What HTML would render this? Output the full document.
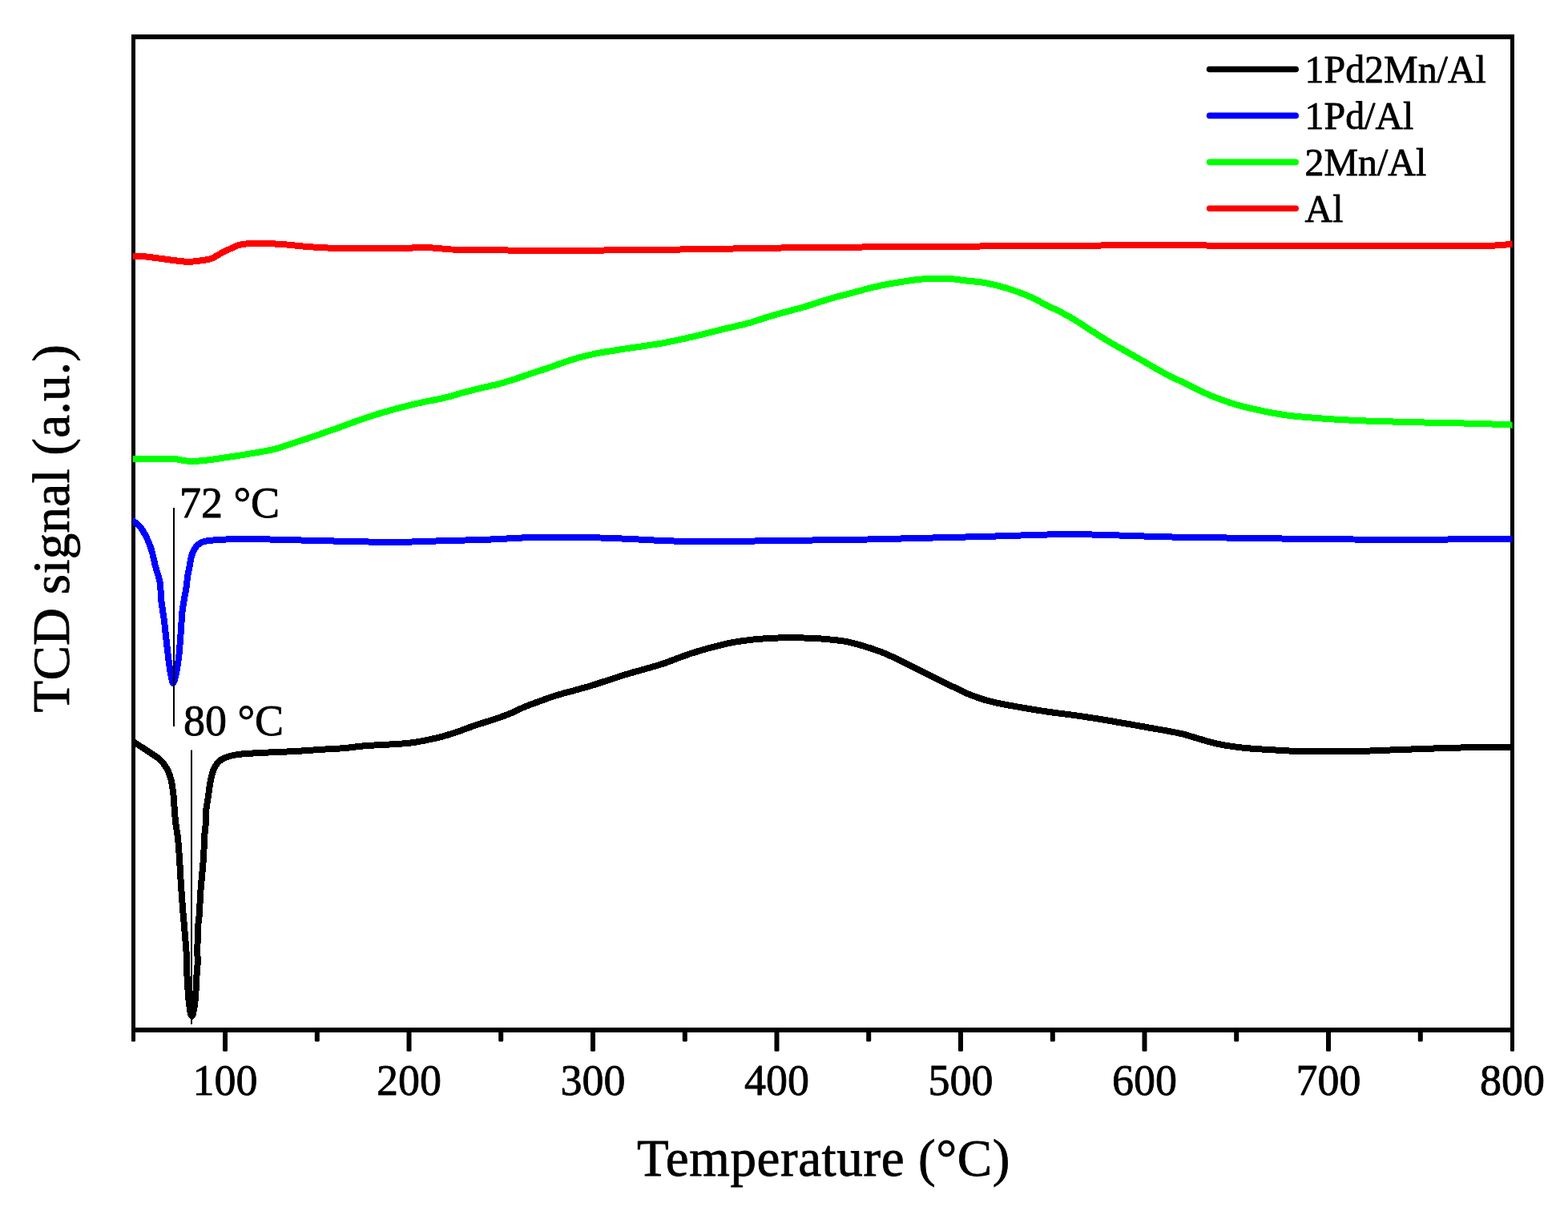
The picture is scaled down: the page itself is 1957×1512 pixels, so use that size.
<!DOCTYPE html>
<html lang="en"><head><meta charset="utf-8"><title>H2-TPR profiles</title>
<style>
html,body{margin:0;padding:0;background:#fff;}
body{width:1957px;height:1512px;overflow:hidden;}
svg{display:block;}
text{font-family:"Liberation Serif", "DejaVu Serif", serif;fill:#000;stroke:#000;stroke-width:0.8;stroke-linejoin:round;}
.c{fill:none;stroke-width:8.0;stroke-linejoin:round;stroke-linecap:butt;}
.lg{fill:none;stroke-width:7.6;stroke-linecap:round;}
</style></head><body>
<svg width="1957" height="1512" viewBox="0 0 1957 1512">
<rect x="0" y="0" width="1957" height="1512" fill="#ffffff"/>
<g id="axes" fill="#000000">
<rect x="164" y="43" width="1726" height="6"/>
<rect x="164" y="1283" width="1726" height="6"/>
<rect x="164" y="43" width="5" height="1250"/>
<rect x="164" y="1284" width="5" height="16.6" rx="1.3" ry="1.3"/>
<rect x="1885" y="43" width="5" height="1250"/>
<rect x="1885" y="1284" width="5" height="28.8" rx="1.3" ry="1.3"/>
<rect x="278.0" y="1284" width="6" height="28.8" rx="1.5" ry="1.5"/>
<rect x="507.5" y="1284" width="6" height="28.8" rx="1.5" ry="1.5"/>
<rect x="737.0" y="1284" width="6" height="28.8" rx="1.5" ry="1.5"/>
<rect x="966.5" y="1284" width="6" height="28.8" rx="1.5" ry="1.5"/>
<rect x="1196.0" y="1284" width="6" height="28.8" rx="1.5" ry="1.5"/>
<rect x="1425.5" y="1284" width="6" height="28.8" rx="1.5" ry="1.5"/>
<rect x="1655.0" y="1284" width="6" height="28.8" rx="1.5" ry="1.5"/>
<rect x="392.8" y="1284" width="6" height="16.6" rx="1.5" ry="1.5"/>
<rect x="622.2" y="1284" width="6" height="16.6" rx="1.5" ry="1.5"/>
<rect x="851.8" y="1284" width="6" height="16.6" rx="1.5" ry="1.5"/>
<rect x="1081.2" y="1284" width="6" height="16.6" rx="1.5" ry="1.5"/>
<rect x="1310.8" y="1284" width="6" height="16.6" rx="1.5" ry="1.5"/>
<rect x="1540.2" y="1284" width="6" height="16.6" rx="1.5" ry="1.5"/>
<rect x="1769.8" y="1284" width="6" height="16.6" rx="1.5" ry="1.5"/>
</g>
<defs><clipPath id="plotclip"><rect x="165.7" y="49" width="1721.9" height="1234"/></clipPath></defs>
<g id="curves" clip-path="url(#plotclip)" shape-rendering="crispEdges">
<path class="c" stroke="#000000" d="M159.3 921.4C160.4 922.2 162.6 923.6 166.0 925.8C169.4 928.0 175.9 932.2 179.8 934.8C183.8 937.4 186.4 939.0 189.7 941.3C193.0 943.6 196.5 945.5 199.6 948.5C202.7 951.5 205.9 955.3 208.2 959.4C210.5 963.5 212.1 967.9 213.4 973.0C214.7 978.1 215.5 984.2 216.2 990.0C216.9 995.8 217.1 1001.7 217.6 1008.0C218.1 1014.3 218.6 1021.8 219.3 1028.0C220.0 1034.2 221.1 1038.2 221.8 1045.0C222.6 1051.8 223.2 1060.0 223.8 1068.6C224.4 1077.1 224.9 1087.8 225.4 1096.3C225.9 1104.8 226.5 1112.6 227.0 1119.8C227.5 1127.0 227.9 1132.0 228.5 1139.7C229.1 1147.4 230.1 1157.3 230.8 1166.1C231.5 1174.9 232.4 1183.8 232.8 1192.6C233.2 1201.4 233.1 1210.2 233.5 1219.0C233.9 1227.8 234.6 1238.2 235.2 1245.5C235.8 1252.8 236.6 1258.6 237.3 1262.5C238.0 1266.4 238.9 1268.8 239.6 1268.8C240.3 1268.8 241.0 1265.0 241.6 1262.5C242.2 1260.0 242.6 1257.2 243.0 1254.0C243.4 1250.8 243.8 1248.8 244.2 1243.0C244.6 1237.2 245.0 1225.2 245.4 1219.0C245.8 1212.8 246.3 1212.4 246.5 1205.8C246.7 1199.2 246.3 1188.2 246.5 1179.4C246.7 1170.6 247.1 1159.5 247.5 1152.9C247.9 1146.3 248.7 1145.2 249.1 1139.7C249.5 1134.2 249.4 1126.4 249.8 1119.8C250.2 1113.2 250.8 1108.5 251.5 1100.0C252.2 1091.5 253.6 1077.1 254.2 1068.6C254.8 1060.0 254.4 1055.3 254.8 1048.7C255.2 1042.1 256.3 1034.9 256.7 1028.9C257.1 1023.0 256.5 1019.0 257.1 1013.0C257.7 1007.0 259.2 999.5 260.1 993.2C261.0 986.9 261.6 980.8 262.7 975.3C263.8 969.8 265.0 964.6 266.8 960.5C268.6 956.4 270.5 953.1 273.5 950.5C276.5 947.9 280.3 946.1 284.9 944.6C289.4 943.1 293.5 942.4 300.8 941.6C308.1 940.8 317.4 940.4 328.6 939.8C339.9 939.2 355.1 938.7 368.3 938.0C381.5 937.3 397.6 936.0 407.9 935.4C418.2 934.8 422.9 934.7 430.0 934.1C437.1 933.5 443.6 932.3 450.4 931.7C457.2 931.1 464.1 930.7 470.9 930.3C477.7 929.9 484.5 929.7 491.3 929.2C498.1 928.8 505.0 928.5 511.8 927.6C518.6 926.8 525.4 925.5 532.2 924.1C539.0 922.7 545.8 921.3 552.6 919.4C559.4 917.5 566.3 915.2 573.1 912.9C579.9 910.6 586.7 907.8 593.5 905.5C600.3 903.2 607.2 901.3 614.0 899.0C620.8 896.7 627.6 894.5 634.4 891.8C641.2 889.1 648.0 885.4 654.8 882.6C661.6 879.8 668.5 877.4 675.3 874.9C682.1 872.4 688.9 870.0 695.7 867.9C702.5 865.8 709.4 864.1 716.2 862.2C723.0 860.3 729.8 858.5 736.6 856.5C743.4 854.5 750.2 852.1 757.0 849.9C763.8 847.7 770.7 845.3 777.5 843.2C784.3 841.1 791.1 839.2 797.9 837.3C804.7 835.3 812.9 833.1 818.3 831.5C823.7 829.9 825.0 829.6 830.4 827.7C835.8 825.8 844.1 822.3 850.9 819.9C857.7 817.5 864.5 815.2 871.3 813.1C878.1 811.0 885.0 809.2 891.8 807.4C898.6 805.6 905.4 803.8 912.2 802.5C919.0 801.2 925.8 800.2 932.6 799.4C939.4 798.5 946.3 797.9 953.1 797.4C959.9 796.9 966.7 796.6 973.5 796.4C980.3 796.2 987.2 796.3 994.0 796.4C1000.8 796.5 1007.6 796.5 1014.4 796.8C1021.2 797.1 1028.0 797.7 1034.8 798.4C1041.6 799.1 1048.5 799.6 1055.3 800.9C1062.1 802.2 1068.9 804.0 1075.7 806.0C1082.5 808.0 1089.4 810.2 1096.2 812.7C1103.0 815.2 1109.8 818.2 1116.6 821.3C1123.4 824.4 1130.2 828.1 1137.0 831.5C1143.8 834.9 1150.7 838.4 1157.5 841.8C1164.3 845.2 1171.1 848.7 1177.9 852.0C1184.7 855.3 1192.9 859.1 1198.3 861.6C1203.7 864.1 1205.0 865.2 1210.4 867.3C1215.8 869.4 1224.1 872.4 1230.9 874.4C1237.7 876.4 1244.5 877.7 1251.3 879.1C1258.1 880.5 1265.0 881.6 1271.8 882.8C1278.6 884.0 1285.4 885.2 1292.2 886.3C1299.0 887.4 1305.8 888.4 1312.6 889.4C1319.4 890.4 1326.3 891.1 1333.1 892.0C1339.9 892.9 1346.7 893.9 1353.5 894.9C1360.3 895.9 1367.2 897.0 1374.0 898.1C1380.8 899.2 1387.6 900.4 1394.4 901.6C1401.2 902.8 1408.0 903.9 1414.8 905.1C1421.6 906.3 1428.5 907.6 1435.3 908.8C1442.1 910.0 1448.9 911.1 1455.7 912.4C1462.5 913.7 1469.4 914.8 1476.2 916.5C1483.0 918.2 1489.8 920.5 1496.6 922.5C1503.4 924.5 1510.2 926.6 1517.0 928.2C1523.8 929.8 1530.7 930.9 1537.5 931.9C1544.3 932.9 1551.1 933.7 1557.9 934.3C1564.7 934.9 1567.5 935.1 1578.3 935.7C1589.1 936.3 1608.4 937.7 1622.6 938.1C1636.8 938.5 1649.9 938.4 1663.5 938.3C1677.1 938.2 1690.8 938.1 1704.4 937.7C1718.0 937.3 1731.7 936.6 1745.3 936.1C1758.9 935.6 1772.6 935.1 1786.2 934.6C1799.8 934.1 1813.4 933.7 1827.0 933.4C1840.6 933.1 1858.1 933.1 1867.9 933.0C1877.7 932.9 1881.7 933.0 1886.0 933.0C1890.3 933.0 1892.7 933.0 1894.0 933.0"/>
<path class="c" stroke="#0000ff" d="M160.0 645.7C161.1 646.5 164.0 648.8 166.3 650.6C168.6 652.4 171.2 653.5 173.8 656.5C176.4 659.5 179.2 663.7 181.7 668.5C184.2 673.3 186.6 678.9 188.7 685.3C190.8 691.7 192.2 700.1 194.0 707.1C195.8 714.1 198.4 720.0 199.6 727.0C200.8 734.0 200.4 741.2 201.2 748.8C202.0 756.4 203.5 764.3 204.6 772.6C205.7 780.9 206.5 789.8 207.5 798.4C208.5 807.0 209.5 816.6 210.5 824.2C211.5 831.8 212.5 839.2 213.5 844.0C214.5 848.8 215.3 854.0 216.5 853.0C217.7 852.0 219.2 843.9 220.4 838.1C221.6 832.3 222.5 826.6 223.4 818.3C224.3 810.0 225.1 797.4 225.8 788.5C226.5 779.6 226.7 771.3 227.4 764.7C228.1 758.1 229.0 753.8 229.8 748.8C230.6 743.8 231.6 739.9 232.3 734.9C233.1 729.9 233.5 724.0 234.3 719.0C235.1 714.0 236.1 709.5 236.9 705.2C237.7 700.9 238.1 696.9 239.3 693.3C240.5 689.6 242.2 685.9 244.2 683.3C246.2 680.6 248.4 678.8 251.2 677.4C254.0 676.0 256.5 675.6 261.1 675.0C265.7 674.4 271.1 673.9 279.0 673.6C286.9 673.3 297.1 673.0 308.7 673.0C320.3 673.0 335.2 673.5 348.4 673.8C361.6 674.1 374.9 674.5 388.1 674.8C401.3 675.1 417.5 675.5 427.8 675.8C438.1 676.0 438.5 676.1 450.0 676.3C461.5 676.5 479.5 677.1 496.7 676.9C513.9 676.7 534.5 675.8 553.4 675.2C572.3 674.7 591.3 674.3 610.2 673.6C629.1 672.9 648.0 671.4 666.9 670.9C685.8 670.4 704.7 670.5 723.6 670.8C742.5 671.1 761.4 671.9 780.3 672.7C799.2 673.5 818.1 674.8 837.0 675.4C855.9 676.0 874.9 676.1 893.8 676.1C912.7 676.1 931.6 675.6 950.5 675.4C969.4 675.1 985.2 674.9 1007.2 674.6C1029.2 674.3 1057.3 674.0 1082.8 673.5C1108.3 673.0 1134.5 672.2 1160.0 671.6C1185.5 671.0 1207.9 670.5 1235.6 669.7C1263.3 669.0 1301.2 667.4 1326.4 667.1C1351.6 666.9 1364.2 667.6 1386.9 668.2C1409.6 668.8 1437.3 669.9 1462.5 670.5C1487.7 671.1 1512.9 671.2 1538.1 671.6C1563.3 672.0 1588.6 672.4 1613.8 672.7C1639.0 673.0 1664.2 673.3 1689.4 673.5C1714.6 673.7 1739.8 674.0 1765.0 673.9C1790.2 673.8 1820.1 673.3 1840.6 673.1C1861.1 672.9 1878.7 672.8 1887.9 672.7C1897.1 672.6 1894.6 672.6 1895.9 672.6"/>
<path class="c" stroke="#00ff00" d="M158.1 572.9C159.4 572.9 160.7 572.9 166.1 572.9C171.5 572.9 182.2 572.9 190.7 572.9C199.2 572.9 210.7 572.5 217.2 572.9C223.7 573.3 225.1 574.7 229.5 575.2C233.9 575.7 238.4 576.0 243.8 575.8C249.2 575.6 255.7 574.9 262.2 574.1C268.7 573.3 275.8 572.1 282.6 571.1C289.4 570.1 296.3 569.1 303.1 568.0C309.9 566.9 316.7 565.8 323.5 564.5C330.3 563.2 337.2 562.2 344.0 560.4C350.8 558.6 357.6 556.1 364.4 553.9C371.2 551.7 378.0 549.5 384.8 547.2C391.6 544.9 398.5 542.4 405.3 540.0C412.1 537.6 418.9 535.4 425.7 532.9C432.5 530.4 439.4 527.7 446.2 525.3C453.0 522.9 459.8 520.6 466.6 518.5C473.4 516.4 480.2 514.3 487.0 512.4C493.8 510.5 500.7 508.6 507.5 506.9C514.3 505.2 521.1 503.7 527.9 502.2C534.7 500.7 542.9 499.2 548.3 498.1C553.7 497.0 555.0 496.8 560.4 495.3C565.8 493.9 574.1 491.2 580.9 489.4C587.7 487.6 594.5 485.9 601.3 484.3C608.1 482.7 615.0 481.4 621.8 479.6C628.6 477.8 635.4 475.7 642.2 473.5C649.0 471.3 655.8 468.8 662.6 466.5C669.4 464.2 676.3 462.1 683.1 459.8C689.9 457.5 696.7 454.9 703.5 452.6C710.3 450.3 717.2 448.0 724.0 446.1C730.8 444.2 737.6 442.8 744.4 441.4C751.2 440.0 758.0 439.0 764.8 437.9C771.6 436.8 778.5 435.7 785.3 434.7C792.1 433.7 798.9 432.8 805.7 431.8C812.5 430.8 819.4 429.7 826.2 428.5C833.0 427.3 839.8 425.8 846.6 424.4C853.4 423.0 860.2 421.5 867.0 419.9C873.8 418.3 880.7 416.5 887.5 414.8C894.3 413.1 901.1 411.3 907.9 409.7C914.7 408.1 922.9 406.4 928.3 405.0C933.7 403.6 935.0 403.3 940.4 401.6C945.8 399.9 954.1 397.1 960.9 395.0C967.7 392.9 974.5 391.2 981.3 389.3C988.1 387.4 995.0 385.8 1001.8 383.8C1008.6 381.8 1015.4 379.4 1022.2 377.3C1029.0 375.2 1035.8 373.0 1042.6 371.1C1049.4 369.2 1056.3 367.6 1063.1 365.8C1069.9 364.0 1076.7 362.0 1083.5 360.3C1090.3 358.6 1097.2 357.0 1104.0 355.6C1110.8 354.2 1117.6 353.2 1124.4 352.1C1131.2 351.0 1138.0 349.9 1144.8 349.1C1151.6 348.4 1158.5 347.8 1165.3 347.6C1172.1 347.4 1178.9 347.5 1185.7 348.0C1192.5 348.5 1199.4 349.7 1206.2 350.5C1213.0 351.3 1219.8 351.6 1226.6 352.7C1233.4 353.8 1240.2 355.4 1247.0 357.2C1253.8 359.0 1260.7 361.0 1267.5 363.4C1274.3 365.8 1281.1 368.4 1287.9 371.5C1294.7 374.6 1302.9 379.6 1308.3 382.3C1313.7 385.0 1315.0 385.0 1320.4 387.8C1325.8 390.6 1334.1 395.0 1340.9 399.1C1347.7 403.2 1354.5 408.0 1361.3 412.3C1368.1 416.6 1375.0 421.1 1381.8 425.2C1388.6 429.3 1395.4 433.0 1402.2 436.9C1409.0 440.8 1415.8 444.6 1422.6 448.5C1429.4 452.4 1436.3 456.6 1443.1 460.4C1449.9 464.2 1456.7 467.8 1463.5 471.2C1470.3 474.6 1477.2 477.5 1484.0 480.8C1490.8 484.1 1497.6 487.9 1504.4 491.0C1511.2 494.1 1518.0 496.7 1524.8 499.2C1531.6 501.7 1538.5 504.1 1545.3 506.0C1552.1 507.9 1558.9 509.4 1565.7 510.9C1572.5 512.4 1579.4 513.9 1586.2 515.2C1593.0 516.5 1599.8 517.7 1606.6 518.6C1613.4 519.5 1620.2 520.1 1627.0 520.7C1633.8 521.3 1640.7 521.8 1647.5 522.3C1654.3 522.8 1658.4 523.2 1667.9 523.7C1677.4 524.2 1691.5 525.0 1704.4 525.5C1717.3 526.0 1731.7 526.3 1745.3 526.7C1758.9 527.1 1772.6 527.4 1786.2 527.7C1799.8 528.0 1813.4 528.2 1827.0 528.5C1840.6 528.8 1857.7 529.4 1867.9 529.7C1878.1 530.1 1883.3 530.4 1888.0 530.6C1892.7 530.8 1894.7 530.9 1896.0 531.0"/>
<path class="c" stroke="#ff0000" d="M158.0 320.0C159.3 320.0 162.3 320.0 166.0 320.1C169.7 320.2 174.6 319.8 180.4 320.3C186.2 320.8 194.1 322.0 200.9 322.9C207.7 323.8 215.5 325.0 221.3 325.6C227.1 326.2 230.5 326.9 235.6 326.8C240.7 326.7 247.2 325.9 252.0 325.2C256.8 324.5 260.4 324.1 264.2 322.7C267.9 321.3 270.8 319.0 274.5 317.0C278.2 315.0 282.6 312.8 286.7 310.9C290.8 309.0 294.9 306.9 299.0 305.8C303.1 304.7 305.5 304.4 311.3 304.1C317.1 303.8 326.6 303.9 333.7 304.1C340.8 304.3 347.4 304.7 354.2 305.2C361.0 305.7 367.8 306.6 374.6 307.2C381.4 307.8 388.2 308.4 395.0 308.8C401.8 309.2 403.6 309.5 415.5 309.7C427.4 309.9 451.3 309.9 466.6 309.9C481.9 309.9 497.3 310.1 507.5 309.9C517.7 309.7 519.4 308.6 527.9 308.8C536.4 309.0 550.6 310.5 558.6 311.0C566.6 311.5 555.1 311.5 575.8 311.8C596.5 312.1 647.2 312.8 683.0 312.9C718.8 313.0 754.6 312.5 790.4 312.2C826.2 311.9 861.9 311.3 897.7 310.8C933.5 310.3 969.3 309.4 1005.0 309.0C1040.7 308.6 1072.8 308.6 1112.0 308.3C1151.2 308.0 1201.5 307.6 1240.0 307.4C1278.5 307.1 1310.9 307.0 1343.0 306.8C1375.1 306.6 1396.7 306.1 1432.5 306.1C1468.3 306.1 1507.0 306.6 1557.7 306.8C1608.4 307.0 1689.5 307.1 1736.5 307.2C1783.5 307.2 1819.8 307.1 1840.0 307.1C1860.2 307.1 1853.0 307.1 1858.0 307.0C1863.0 306.9 1866.2 306.5 1870.0 306.2C1873.8 305.9 1878.0 305.6 1881.0 305.4C1884.0 305.2 1885.5 305.1 1888.0 305.0C1890.5 304.9 1894.7 304.6 1896.0 304.5"/>
</g>
<g id="ticklabels" font-size="54" text-anchor="middle">
<text x="281.0" y="1367">100</text>
<text x="510.5" y="1367">200</text>
<text x="740.0" y="1367">300</text>
<text x="969.5" y="1367">400</text>
<text x="1199.0" y="1367">500</text>
<text x="1428.5" y="1367">600</text>
<text x="1658.0" y="1367">700</text>
<text x="1887.5" y="1367">800</text>
</g>
<text id="xlabel" x="795" y="1467.7" font-size="65" letter-spacing="0.6">Temperature (°C)</text>
<text id="ylabel" transform="translate(85.8 889.5) rotate(-90)" font-size="65" letter-spacing="0.28">TCD signal (a.u.)</text>
<g id="annot">
<rect x="216" y="634" width="2" height="273" fill="#000"/>
<rect x="238" y="936.5" width="2" height="342.3" fill="#000"/>
<text x="224" y="646.3" font-size="54">72 °C</text>
<text x="229" y="918" font-size="54">80 °C</text>
</g>
<g id="legend" font-size="47.9">
<line class="lg" x1="1509.6" y1="86.5" x2="1617.2" y2="86.5" stroke="#000000"/>
<text x="1628.6" y="102.8">1Pd2Mn/Al</text>
<line class="lg" x1="1509.6" y1="144.4" x2="1617.2" y2="144.4" stroke="#0000ff"/>
<text x="1628.6" y="161.0">1Pd/Al</text>
<line class="lg" x1="1509.6" y1="202.4" x2="1617.2" y2="202.4" stroke="#00ff00"/>
<text x="1628.6" y="219.1">2Mn/Al</text>
<line class="lg" x1="1509.6" y1="260.3" x2="1617.2" y2="260.3" stroke="#ff0000"/>
<text x="1628.6" y="276.9">Al</text>
</g>
</svg>
</body></html>
